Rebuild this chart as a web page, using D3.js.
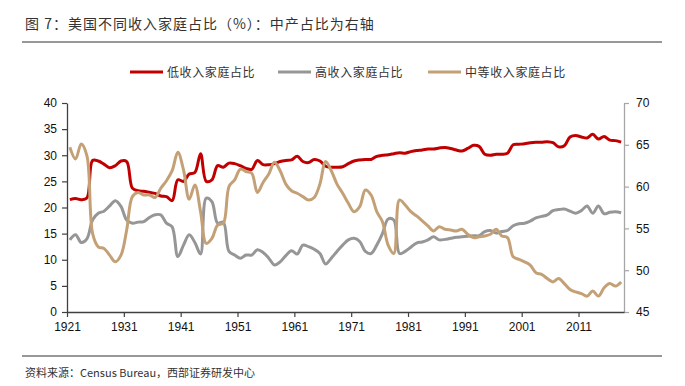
<!DOCTYPE html>
<html>
<head>
<meta charset="utf-8">
<script src="https://cdn.jsdelivr.net/npm/d3@7"></script>
<style>
  html, body { margin: 0; padding: 0; background: #fff; }
  svg { display: block; }
  .tick text { font-family: "Liberation Sans", Arial, sans-serif; font-size: 12px; fill: #111; }
</style>
</head>
<body>
<script>
// ---------------- data ----------------
const startYear = 1921;
const endYear = 2018;
const years = d3.range(startYear, endYear + 1);

const lowShare = [
  21.5, 21.7, 21.5, 21.8, 29.0, 28.9, 28.3, 27.6, 28.0, 28.9,
  28.8, 23.7, 23.2, 23.1, 22.9, 22.7, 22.2, 22.1, 21.3, 25.3,
  25.0, 26.4, 26.7, 30.3, 25.0, 25.3, 28.0, 27.7, 28.5, 28.4,
  28.0, 27.5, 27.3, 29.0, 28.2, 28.2, 28.4, 28.8, 29.0, 29.1,
  29.8, 28.8, 28.6, 29.2, 28.9, 27.9, 27.7, 27.7, 27.8, 28.4,
  28.9, 29.1, 29.2, 29.2, 29.8, 30.0, 30.1, 30.3, 30.5, 30.4,
  30.7, 30.9, 31.0, 31.2, 31.2, 31.4, 31.5, 31.3, 31.0, 30.8,
  31.3, 31.9, 31.7, 30.2, 30.0, 30.2, 30.2, 30.4, 32.0, 32.1,
  32.2, 32.4, 32.5, 32.5, 32.6, 32.4, 31.6, 31.8, 33.5, 33.8,
  33.5, 33.3, 34.0, 33.1, 33.6, 32.9, 32.8, 32.5
];

const highShare = [
  13.8, 14.8, 13.3, 14.0, 17.6, 18.9, 19.3, 20.3, 21.3, 20.2,
  17.6, 17.0, 17.2, 17.3, 18.1, 18.6, 18.6, 17.0, 16.3, 10.6,
  12.8, 14.8, 13.3, 11.1, 21.8, 21.1, 17.0, 17.2, 11.6, 10.9,
  10.3, 10.9, 10.9, 11.9, 11.4, 10.3, 9.0, 9.6, 10.8, 11.7,
  11.1, 12.8, 12.5, 12.0, 11.2, 9.2, 10.3, 11.6, 12.8, 13.8,
  14.1, 13.5, 11.6, 11.2, 12.8, 15.0, 17.8, 17.6, 11.2, 11.6,
  12.4, 13.2, 13.4, 13.8, 14.4, 13.8, 13.9, 14.1, 14.3, 14.4,
  14.5, 14.6, 14.6, 15.4, 15.6, 15.1, 15.4, 15.6, 16.5, 16.9,
  17.0, 17.4, 18.0, 18.3, 18.6, 19.4, 19.6, 19.7, 19.3, 18.9,
  19.4, 20.3, 18.9, 20.3, 18.8, 19.1, 19.2, 19.0
];

const middleShare = [
  64.7, 63.3, 65.1, 63.7, 54.4, 52.8, 52.6, 51.8, 51.0, 51.8,
  54.8, 58.8, 59.3, 59.0, 59.0, 58.7, 59.8, 60.7, 61.9, 64.1,
  62.0, 58.5, 60.2, 57.0, 53.2, 53.8, 55.4, 55.6, 60.0, 60.8,
  62.1, 61.8, 61.6, 59.3, 60.5, 61.5, 62.9, 61.9, 60.3, 59.5,
  59.2, 58.8, 58.4, 58.7, 60.3, 63.0, 61.9, 60.3, 59.2, 58.0,
  57.0, 57.6, 59.6, 59.0, 57.0, 55.8, 53.0, 52.0, 58.4, 57.8,
  57.0, 56.5, 55.9, 55.3, 54.7, 55.2, 54.9, 54.8, 54.7, 54.9,
  54.3, 53.9, 54.0, 54.1, 54.3, 54.9, 54.1, 53.9, 51.6, 51.3,
  51.0, 50.6, 49.7, 49.5, 49.0, 48.6, 49.0, 48.4, 47.7, 47.4,
  47.2, 46.9, 47.5, 46.9, 47.9, 48.4, 48.1, 48.6
];

const seriesNames = ["低收入家庭占比", "高收入家庭占比", "中等收入家庭占比"];
const seriesColors = ["#C00000", "#969696", "#C4A077"];
const xTickYears = [1921, 1931, 1941, 1951, 1961, 1971, 1981, 1991, 2001, 2011];
const leftTicks = [0, 5, 10, 15, 20, 25, 30, 35, 40];
const rightTicks = [45, 50, 55, 60, 65, 70];
const titleText = "图 7：美国不同收入家庭占比（%）：中产占比为右轴";
const sourceText = "资料来源：Census Bureau，西部证券研发中心";

// ---------------- layout ----------------
const W = 685, H = 386;
const plot = { left: 67, right: 624, top: 103, bottom: 312 };
const cjk = "'Noto Sans CJK SC', 'Noto Sans', sans-serif";

const svg = d3.select("body").append("svg").attr("width", W).attr("height", H);
svg.append("rect").attr("width", W).attr("height", H).attr("fill", "#fff");

// title + rules
svg.append("text").attr("x", 25).attr("y", 29)
  .attr("font-family", cjk).attr("font-size", 14).attr("letter-spacing", 1)
  .attr("fill", "#333").text(titleText);
svg.append("line").attr("x1", 22).attr("x2", 662).attr("y1", 42).attr("y2", 42)
  .attr("stroke", "#333").attr("stroke-width", 1.2);
svg.append("line").attr("x1", 22).attr("x2", 662).attr("y1", 356).attr("y2", 356)
  .attr("stroke", "#333").attr("stroke-width", 1.2);
svg.append("text").attr("x", 25).attr("y", 377)
  .attr("font-family", cjk).attr("font-size", 11)
  .attr("fill", "#333").text(sourceText);

// scales
const x = d3.scaleLinear().domain([startYear, endYear + 1]).range([plot.left, plot.right]);
const yL = d3.scaleLinear().domain([0, 40]).range([plot.bottom, plot.top]);
const yR = d3.scaleLinear().domain([45, 70]).range([plot.bottom, plot.top]);

// axes
const gL = svg.append("g").attr("transform", `translate(${plot.left},0)`)
  .call(d3.axisLeft(yL).tickValues(leftTicks).tickSize(5).tickSizeOuter(0).tickPadding(5));
gL.select(".domain").attr("stroke", "#404040").attr("stroke-width", 1.3);
gL.selectAll(".tick line").attr("stroke", "#404040").attr("stroke-width", 1.2);

const gR = svg.append("g").attr("transform", `translate(${plot.right},0)`)
  .call(d3.axisRight(yR).tickValues(rightTicks).tickSize(5).tickSizeOuter(0).tickPadding(7));
gR.select(".domain").attr("stroke", "#A6A6A6").attr("stroke-width", 1.3);
gR.selectAll(".tick line").attr("stroke", "#A6A6A6").attr("stroke-width", 1.2);

const gB = svg.append("g").attr("transform", `translate(0,${plot.bottom})`)
  .call(d3.axisBottom(x).tickValues(xTickYears).tickFormat(d3.format("d"))
    .tickSize(5).tickSizeOuter(0).tickPadding(5));
gB.select(".domain").attr("stroke", "#404040").attr("stroke-width", 1.3);
gB.selectAll(".tick line").attr("stroke", "#404040").attr("stroke-width", 1.2);

// lines
const allSeries = [
  { values: lowShare, y: yL },
  { values: highShare, y: yL },
  { values: middleShare, y: yR }
];
allSeries.forEach((s, k) => {
  const line = d3.line()
    .x((d, i) => x(years[i] + 0.5))
    .y(d => s.y(d))
    .curve(d3.curveCatmullRom.alpha(0.5));
  svg.append("path").datum(s.values)
    .attr("d", line)
    .attr("fill", "none")
    .attr("stroke", seriesColors[k])
    .attr("stroke-width", 3)
    .attr("stroke-linejoin", "round");
});

// legend
const legendX = [130, 278, 428];
const legend = svg.append("g");
seriesNames.forEach((name, k) => {
  legend.append("line").attr("x1", legendX[k]).attr("x2", legendX[k] + 33)
    .attr("y1", 72).attr("y2", 72)
    .attr("stroke", seriesColors[k]).attr("stroke-width", 3);
  legend.append("text").attr("x", legendX[k] + 37).attr("y", 76.5)
    .attr("font-family", cjk).attr("font-size", 12).attr("letter-spacing", 0.6)
    .attr("fill", "#333").text(name);
});
</script>
</body>
</html>
